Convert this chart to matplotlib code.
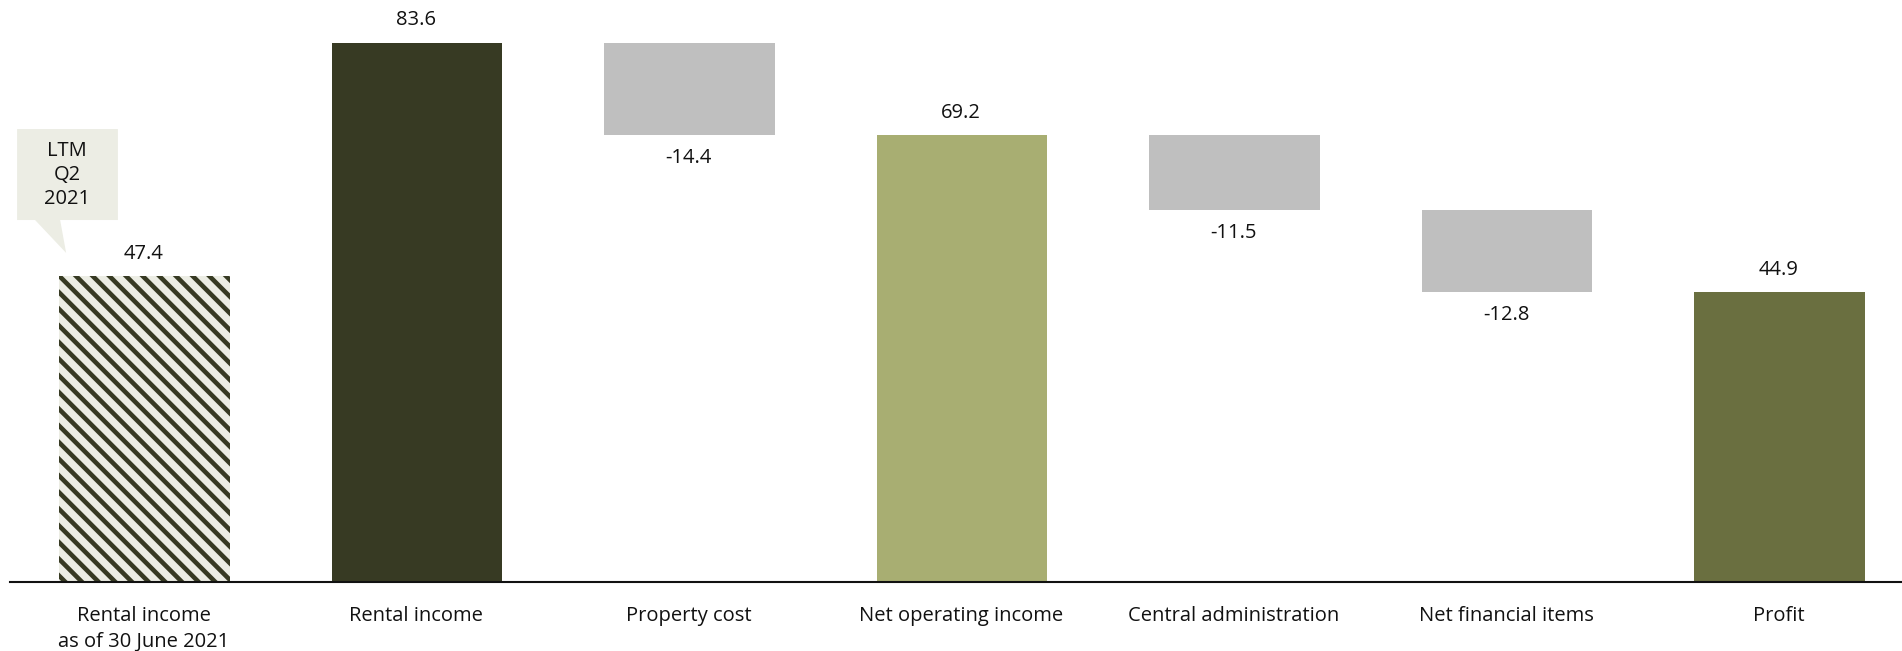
import matplotlib
matplotlib.use("Agg")
import matplotlib.pyplot as plt
from matplotlib.patches import Polygon

plt.rcParams['font.family'] = ['Open Sans', 'DejaVu Sans']
plt.rcParams['hatch.linewidth'] = 3.3

categories = ["Rental income\nas of 30 June 2021", "Rental income", "Property cost",
              "Net operating income", "Central administration", "Net financial items", "Profit"]
# totals are drawn from zero, changes float between the running totals
values = [47.4, 83.6, -14.4, 69.2, -11.5, -12.8, 44.9]
kinds = ["ltm", "total", "change", "total", "change", "change", "total"]
colors = ["#ECEDE4", "#373A23", "#BFBFBF", "#A8AE72", "#BFBFBF", "#BFBFBF", "#6A6F40"]
callout_text = "LTM\nQ2\n2021"

fig = plt.figure(figsize=(19.02, 6.51), dpi=100)
ax = fig.add_axes([10 / 1902, 69 / 651, 1 - 10 / 1902, 1 - 69 / 651])

running = 0.0
for i, (v, kind, c) in enumerate(zip(values, kinds, colors)):
    if kind == "change":
        bottom = running + v
        height = -v
        running += v
    else:
        bottom = 0.0
        height = v
        if kind == "total":
            running = v
    if kind == "ltm":
        ax.bar(i + 0.004, height, bottom=bottom, width=0.625, color=c, edgecolor="#373A23",
               linewidth=0, hatch="\\\\")
    else:
        ax.bar(i + 0.004, height, bottom=bottom, width=0.625, color=c, linewidth=0)

    if v >= 0:
        ax.annotate(f"{v:.1f}", (i, bottom + height), xytext=(0, 16), textcoords="offset points",
                    ha="center", va="center", fontsize=14.5, color="#111111")
    else:
        ax.annotate(f"{v:.1f}", (i, bottom), xytext=(0, -16.5), textcoords="offset points",
                    ha="center", va="center", fontsize=14.5, color="#111111")

# speech-bubble note above the first bar
bubble = Polygon([(-0.464, 70.2), (-0.094, 70.2), (-0.094, 56.1), (-0.306, 56.1),
                  (-0.284, 51.0), (-0.398, 56.1), (-0.464, 56.1)],
                 closed=True, facecolor="#ECEDE4", edgecolor="none")
ax.add_patch(bubble)
ax.text(-0.281, 63.1, callout_text, ha="center", va="center", fontsize=14.5,
        linespacing=1.25, color="#111111")

ax.set_xlim(-0.49, 6.453)
ax.set_ylim(0, 90.2)
ax.set_xticks(range(len(categories)))
ax.set_xticklabels(categories, fontsize=14.5, linespacing=1.4, color="#111111")
ax.tick_params(axis="x", length=0, pad=17)
ax.set_yticks([])
for side in ("top", "right", "left"):
    ax.spines[side].set_visible(False)
ax.spines["bottom"].set_linewidth(1.5)
ax.spines["bottom"].set_color("#111111")

fig.savefig("out.png", dpi=100)
